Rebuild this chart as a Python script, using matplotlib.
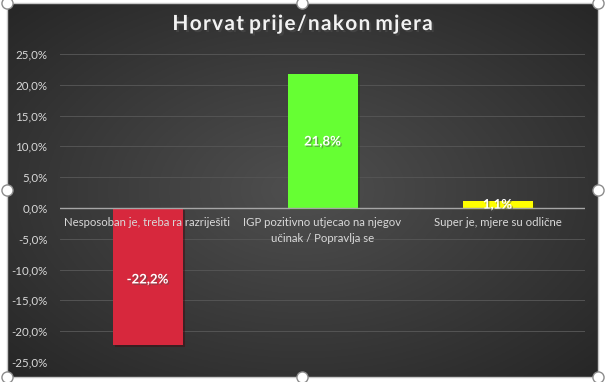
import numpy as np
import matplotlib
matplotlib.use('Agg')
import matplotlib.pyplot as plt
import matplotlib.patheffects as pe

# data
categories = ['Nesposoban je, treba ra razriješiti',
              'IGP pozitivno utjecao na njegov\nučinak / Popravlja se',
              'Super je, mjere su odlične']
values = [-22.2, 21.8, 1.1]
bar_colors = ['#d7283d', '#66ff33', '#ffff00']
value_labels = ['-22,2%', '21,8%', '1,1%']
y_ticks = [-25, -20, -15, -10, -5, 0, 5, 10, 15, 20, 25]

plt.rcParams['font.family'] = ['Lato', 'DejaVu Sans']

W, H = 605, 382
fig = plt.figure(figsize=(W / 100, H / 100), dpi=100)
fig.patch.set_facecolor('white')

# chart area with radial dark gradient
fx0, fy0, fx1, fy1 = 7, 3, 598, 377
bg = fig.add_axes([fx0 / W, 1 - fy1 / H, (fx1 - fx0) / W, (fy1 - fy0) / H])
gx, gy = np.meshgrid(np.linspace(-1, 1, 300), np.linspace(-1, 1, 200))
r = np.clip(np.sqrt(gx ** 2 + gy ** 2) / 1.414, 0, 1)
shade = 0.31 - 0.16 * r
bg.imshow(np.dstack([shade, shade, shade]), aspect='auto', extent=[0, 1, 0, 1])
bg.set_axis_off()

ax = fig.add_axes([60 / W, 1 - 362 / H, 525 / W, 308 / H])
ax.patch.set_alpha(0)
x = np.arange(len(categories))
bars = ax.bar(x, values, width=0.4, color=bar_colors, zorder=3)
for b in bars:
    b.set_path_effects([pe.SimplePatchShadow(offset=(1.5, -1.5), alpha=0.5), pe.Normal()])

ax.set_xlim(-0.5, 2.5)
ax.set_ylim(-25, 25)
ax.set_yticks(y_ticks)
ax.set_yticklabels([('%.1f%%' % v).replace('.', ',') for v in y_ticks],
                   color='#d9d9d9', fontsize=8.3)
ax.tick_params(axis='y', length=0, pad=9)
ax.set_xticks([])
for s in ax.spines.values():
    s.set_visible(False)
for v in y_ticks:
    if v != 0:
        ax.axhline(v, color='#545454', lw=0.7, zorder=1)
ax.axhline(0, color='#a6a6a6', lw=1, zorder=4)

for i, lab in enumerate(categories):
    ax.text(i, -1.5, lab, ha='center', va='top', color='#d9d9d9',
            fontsize=8.2, zorder=5, linespacing=1.5)

label_y = [-11.6, 10.8, 0.55]
for i, lab in enumerate(value_labels):
    ax.text(i, label_y[i], lab, ha='center', va='center', color='white',
            fontsize=9.5, fontweight='bold', zorder=6,
            path_effects=[pe.withSimplePatchShadow(offset=(1, -1), alpha=0.5)])

fig.text(0.5, 1 - 24 / H, 'H o r v a t  p r i j e / n a k o n  m j e r a'.replace(' ', '\u200a').replace('\u200a\u200a', ' '),
         ha='center', va='center',
         color='#f2f2f2', fontsize=15, fontweight='bold',
         path_effects=[pe.withSimplePatchShadow(offset=(1.5, -1.5), alpha=0.7)])

# frame and selection handles
ov = fig.add_axes([0, 0, 1, 1])
ov.set_xlim(0, W)
ov.set_ylim(H, 0)
ov.set_axis_off()
ov.patch.set_alpha(0)
ov.plot([fx0, fx1, fx1, fx0, fx0], [fy0, fy0, fy1, fy1, fy0], color='#c8c8c8', lw=1)
hx = [fx0, 302, fx1, fx0, fx1, fx0, 302, fx1]
hy = [fy0, fy0, fy0, 190, 190, fy1, fy1, fy1]
ov.plot(hx, hy, 'o', ms=8, mfc='white', mec='#8c8c8c', mew=1, clip_on=False)

fig.savefig('out.png', dpi=100)
